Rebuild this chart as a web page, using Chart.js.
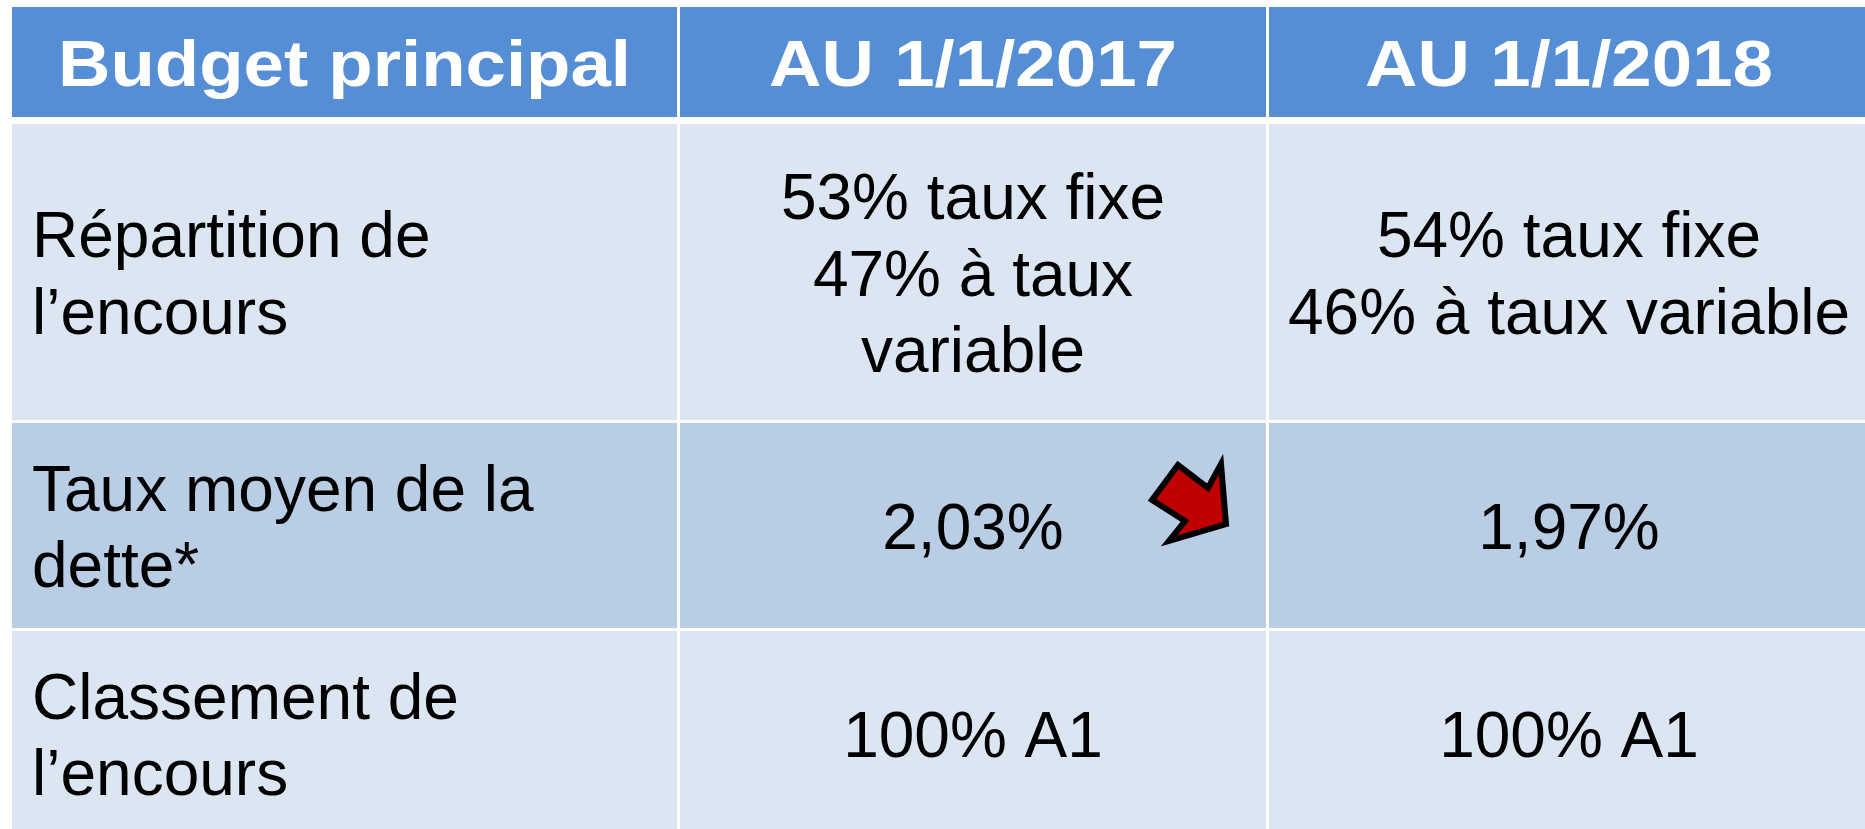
<!DOCTYPE html>
<html lang="fr">
<head>
<meta charset="UTF-8" />
<meta name="viewport" content="width=device-width, initial-scale=1.0" />
<title>Budget principal</title>
<script src="https://cdn.jsdelivr.net/npm/chart.js"></script>
<style>
  html, body { margin: 0; padding: 0; background: #fff; overflow: hidden; }
  #wrap { width: 1865px; height: 829px; }
</style>
</head>
<body>
<div id="wrap"><canvas id="myChart"></canvas></div>
<script>
// en-têtes et libellés de lignes
const headers = ["Budget principal", "AU 1/1/2017", "AU 1/1/2018"];
const rowLabels = ["Répartition de l’encours", "Taux moyen de la dette*", "Classement de l’encours"];

// valeurs 2017 / 2018
const tauxFixe = [53, 54];
const tauxVariable = [47, 46];
const tauxMoyen = [2.03, 1.97];
const classementA1 = [100, 100];

function pct(v) {
  return v.toFixed(2).replace(".", ",") + "%";
}

// une liste de paragraphes par cellule
const body = rowLabels.map((label, r) => {
  const cells = [[label]];
  for (let y = 0; y < tauxFixe.length; y++) {
    if (r === 0) cells.push([tauxFixe[y] + "% taux fixe", tauxVariable[y] + "% à taux variable"]);
    if (r === 1) cells.push([pct(tauxMoyen[y])]);
    if (r === 2) cells.push([classementA1[y] + "% A1"]);
  }
  return cells;
});

// découpe un paragraphe selon la largeur de la colonne
function wrap(ctx, text, maxW) {
  const words = text.split(" ");
  const lines = [];
  let cur = "";
  words.forEach((w) => {
    const t = cur ? cur + " " + w : w;
    if (cur && ctx.measureText(t).width > maxW) {
      lines.push(cur);
      cur = w;
    } else {
      cur = t;
    }
  });
  if (cur) lines.push(cur);
  return lines;
}

const tablePlugin = {
  id: "table",
  beforeDraw(chart, args, opts) {
    const ctx = chart.ctx;
    const xs = chart.scales.x;
    const ys = chart.scales.y;
    const px = (v) => xs.getPixelForValue(v);
    const py = (v) => ys.getPixelForValue(v);

    ctx.save();
    ctx.fillStyle = "#ffffff";
    ctx.fillRect(0, 0, chart.width, chart.height);

    const rows = [headers.map((h) => [h])].concat(body);
    rows.forEach((cells, r) => {
      const [y0, y1] = opts.rows[r];
      const top = py(y0), bottom = py(y1);
      const cy = (top + bottom) / 2;
      cells.forEach((paras, c) => {
        const [x0, x1] = opts.cols[c];
        const left = px(x0), right = px(x1);
        ctx.fillStyle = opts.fills[r];
        ctx.fillRect(left, top, right - left, bottom - top);

        const isHead = r === 0;
        ctx.font = isHead ? "bold 64px 'Liberation Sans', Arial, sans-serif" : "64px 'Liberation Sans', Arial, sans-serif";
        ctx.fillStyle = isHead ? "#ffffff" : "#000000";
        ctx.textBaseline = "alphabetic";

        const maxW = right - left - 2 * opts.wrapPad;
        let lines = [];
        paras.forEach((p) => { lines = lines.concat(wrap(ctx, p, maxW)); });

        const leftAlign = !isHead && c === 0;
        ctx.textAlign = leftAlign ? "left" : "center";
        const tx = leftAlign ? left + opts.padX : (left + right) / 2;
        const sx = isHead ? opts.headStretch : 1;
        lines.forEach((ln, i) => {
          const by = cy + opts.baseline + (i - (lines.length - 1) / 2) * opts.lineHeight;
          ctx.save();
          ctx.translate(tx, by);
          ctx.scale(sx, 1);
          ctx.fillText(ln, 0, 0);
          ctx.restore();
        });
      });
    });

    // flèche de baisse
    const pts = opts.arrow;
    ctx.beginPath();
    pts.forEach((p, i) => {
      if (i === 0) ctx.moveTo(px(p[0]), py(p[1]));
      else ctx.lineTo(px(p[0]), py(p[1]));
    });
    ctx.closePath();
    ctx.fillStyle = "#c00000";
    ctx.fill();
    ctx.lineWidth = 6;
    ctx.lineJoin = "miter";
    ctx.strokeStyle = "#000000";
    ctx.stroke();
    ctx.restore();
  },
};

new Chart(document.getElementById("myChart"), {
  type: "scatter",
  data: { datasets: [{ data: [] }] },
  plugins: [tablePlugin],
  options: {
    responsive: true,
    maintainAspectRatio: false,
    animation: false,
    layout: { padding: 0 },
    scales: {
      x: { type: "linear", min: 0, max: 1865, display: false },
      y: { type: "linear", min: 0, max: 829, reverse: true, display: false },
    },
    plugins: {
      legend: { display: false },
      tooltip: { enabled: false },
      table: {
        cols: [[12, 677], [680, 1266], [1269, 1869]],
        rows: [[7, 117], [124, 420], [423, 628], [631, 836]],
        fills: ["#558ed5", "#dce6f2", "#b9cde5", "#dce6f2"],
        padX: 20,
        wrapPad: 17,
        headStretch: 1.135,
        baseline: 23.5,
        lineHeight: 76.5,
        arrow: [[1152, 500], [1178, 465], [1208, 488], [1221, 464], [1226, 524], [1169, 541], [1185, 521]],
      },
    },
  },
});
</script>
</body>
</html>
